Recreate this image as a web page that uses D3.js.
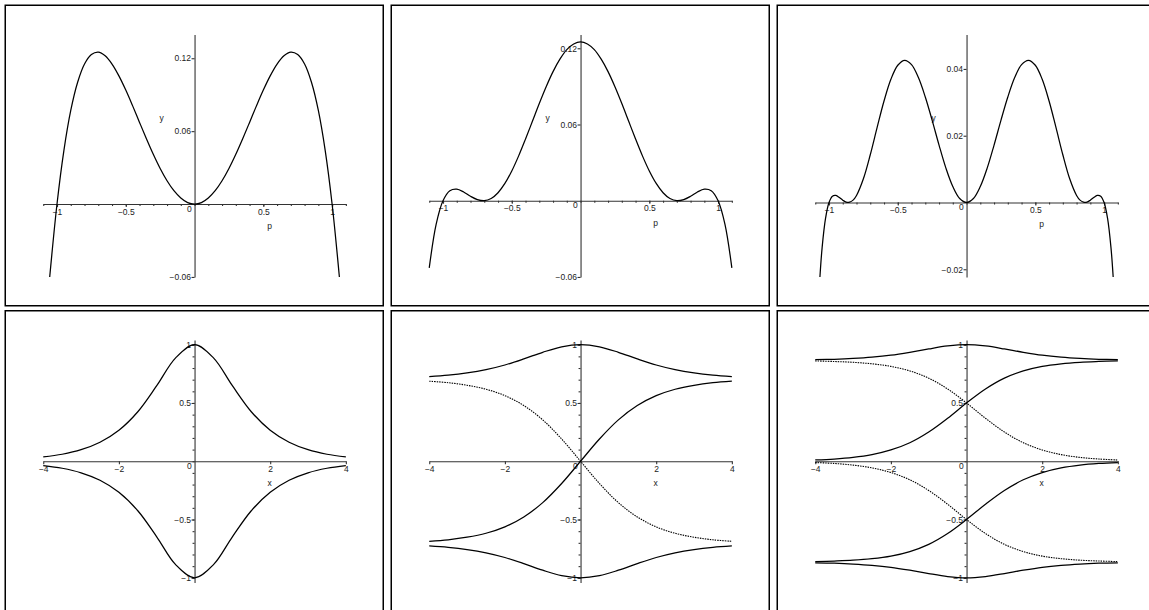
<!DOCTYPE html>
<html>
<head>
<meta charset="utf-8">
<script src="https://cdn.jsdelivr.net/npm/d3@7"></script>
<style>
body { margin: 0; background: #fff; }
svg text { font-family: "Liberation Sans", Arial, sans-serif; font-size: 8.5px; fill: #222; }
.axis path, .axis line { stroke: #333; stroke-width: 1.1; }
</style>
</head>
<body>
<svg id="chart" width="1149" height="610"></svg>
<script>
// ---- top row (variable p) ----
var p1 = [-1.053,-1,-0.95,-0.9,-0.85,-0.8,-0.75,-0.7,-0.65,-0.6,-0.55,-0.5,-0.45,-0.4,-0.35,-0.3,-0.25,-0.2,-0.15,-0.1,-0.05,
          0,0.05,0.1,0.15,0.2,0.25,0.3,0.35,0.4,0.45,0.5,0.55,0.6,0.65,0.7,0.75,0.8,0.85,0.9,0.95,1,1.053];
var y1 = [-0.06,0,0.0440,0.0770,0.1002,0.1152,0.1230,0.1250,0.1220,0.1152,0.1055,0.0938,0.0808,0.0672,0.0538,0.0410,0.0293,0.0192,0.0110,0.0050,0.0012,
          0,0.0012,0.0050,0.0110,0.0192,0.0293,0.0410,0.0538,0.0672,0.0808,0.0938,0.1055,0.1152,0.1220,0.1250,0.1230,0.1152,0.1002,0.0770,0.0440,0,-0.06];

var p2 = [-1.1,-1.05,-1,-0.95,-0.9,-0.85,-0.8,-0.75,-0.7,-0.65,-0.6,-0.55,-0.5,-0.45,-0.4,-0.35,-0.3,-0.25,-0.2,-0.15,-0.1,-0.05,
          0,0.05,0.1,0.15,0.2,0.25,0.3,0.35,0.4,0.45,0.5,0.55,0.6,0.65,0.7,0.75,0.8,0.85,0.9,0.95,1,1.05,1.1];
var y2 = [-0.0529,-0.0186,0,0.0079,0.0091,0.0069,0.0035,0.0009,0.0000,0.0017,0.0063,0.0136,0.0234,0.0353,0.0486,0.0625,0.0765,0.0897,0.1016,0.1114,0.1189,0.1234,
          0.1250,0.1234,0.1189,0.1114,0.1016,0.0897,0.0765,0.0625,0.0486,0.0353,0.0234,0.0136,0.0063,0.0017,0.0000,0.0009,0.0035,0.0069,0.0091,0.0079,0,-0.0186,-0.0529];

var p3 = [-1.066,-1.05,-1.025,-1,-0.975,-0.95,-0.925,-0.9,-0.875,-0.85,-0.825,-0.8,-0.75,-0.7,-0.65,-0.6,-0.55,-0.5,-0.45,-0.4,-0.35,-0.3,-0.25,-0.2,-0.15,-0.1,-0.05,
          0,0.05,0.1,0.15,0.2,0.25,0.3,0.35,0.4,0.45,0.5,0.55,0.6,0.65,0.7,0.75,0.8,0.825,0.85,0.875,0.9,0.925,0.95,0.975,1,1.025,1.05,1.066];
var y3 = [-0.0223,-0.0135,-0.0047,0,0.0019,0.0021,0.0015,0.0007,0.0001,0.0001,0.0007,0.0021,0.0071,0.0143,0.0225,0.0304,0.0369,0.0411,0.0426,0.0413,0.0374,0.0316,0.0246,0.0172,0.0103,0.0048,0.0012,
          0,0.0012,0.0048,0.0103,0.0172,0.0246,0.0316,0.0374,0.0413,0.0426,0.0411,0.0369,0.0304,0.0225,0.0143,0.0071,0.0021,0.0007,0.0001,0.0001,0.0007,0.0015,0.0021,0.0019,0,-0.0047,-0.0135,-0.0223];

// ---- bottom row (variable x) ----
var xs = [-4,-3.5,-3,-2.5,-2,-1.5,-1,-0.5,0,0.5,1,1.5,2,2.5,3,3.5,4];

var bell4    = [0.037,0.060,0.099,0.163,0.266,0.425,0.648,0.887,1,0.887,0.648,0.425,0.266,0.163,0.099,0.060,0.037];
var bell4Low = [-0.037,-0.060,-0.099,-0.163,-0.266,-0.425,-0.648,-0.887,-1,-0.887,-0.648,-0.425,-0.266,-0.163,-0.099,-0.060,-0.037];

var bell5    = [0.727,0.739,0.758,0.786,0.826,0.878,0.935,0.982,1,0.982,0.935,0.878,0.826,0.786,0.758,0.739,0.727];
var rise5    = [-0.687,-0.674,-0.652,-0.618,-0.563,-0.478,-0.355,-0.191,0,0.191,0.355,0.478,0.563,0.618,0.652,0.674,0.687];
var fall5    = [0.687,0.674,0.652,0.618,0.563,0.478,0.355,0.191,0,-0.191,-0.355,-0.478,-0.563,-0.618,-0.652,-0.674,-0.687];
var bell5Low = [-0.727,-0.739,-0.758,-0.786,-0.826,-0.878,-0.935,-0.982,-1,-0.982,-0.935,-0.878,-0.826,-0.786,-0.758,-0.739,-0.727];

var bell6    = [0.871,0.875,0.882,0.893,0.910,0.935,0.964,0.989,1,0.989,0.964,0.935,0.910,0.893,0.882,0.875,0.871];
var rise6    = [0.011,0.019,0.033,0.057,0.097,0.159,0.251,0.369,0.5,0.620,0.713,0.775,0.814,0.836,0.849,0.856,0.861];
var fall6    = [0.861,0.856,0.849,0.836,0.814,0.775,0.713,0.620,0.5,0.369,0.251,0.159,0.097,0.057,0.033,0.019,0.011];
var lowRise6 = [-0.861,-0.856,-0.849,-0.836,-0.814,-0.775,-0.713,-0.620,-0.5,-0.369,-0.251,-0.159,-0.097,-0.057,-0.033,-0.019,-0.011];
var lowFall6 = [-0.011,-0.019,-0.033,-0.057,-0.097,-0.159,-0.251,-0.369,-0.5,-0.620,-0.713,-0.775,-0.814,-0.836,-0.849,-0.856,-0.861];
var bell6Low = [-0.871,-0.875,-0.882,-0.893,-0.910,-0.935,-0.964,-0.989,-1,-0.989,-0.964,-0.935,-0.910,-0.893,-0.882,-0.875,-0.871];

// ---- tick labels ----
var topXTicks = [-1,-0.5,0.5,1];
var botXTicks = [-4,-2,2,4];
var yTicks1 = [-0.06,0.06,0.12];
var yTicks2 = [-0.06,0.06,0.12];
var yTicks3 = [-0.02,0.02,0.04];
var botYTicks = [-1,-0.5,0.5,1];

var panels = [
  {col:0,row:0, xd:[-1.1,1.1], yd:[-0.06,0.1395], xt:topXTicks, xm:0.1, yt:yTicks1, ym:null, xl:"p", yl:"y",
   series:[{x:p1,y:y1}]},
  {col:1,row:0, xd:[-1.1,1.1], yd:[-0.06,0.1308], xt:topXTicks, xm:0.1, yt:yTicks2, ym:null, xl:"p", yl:"y",
   series:[{x:p2,y:y2}]},
  {col:2,row:0, xd:[-1.1,1.1], yd:[-0.0223,0.0503], xt:topXTicks, xm:0.1, yt:yTicks3, ym:null, xl:"p", yl:"y",
   series:[{x:p3,y:y3}]},
  {col:0,row:1, xd:[-4,4], yd:[-1.04,1.04], xt:botXTicks, xm:null, yt:botYTicks, ym:0.1, xl:"x", yl:null,
   series:[{x:xs,y:bell4},{x:xs,y:bell4Low}]},
  {col:1,row:1, xd:[-4,4], yd:[-1.04,1.04], xt:botXTicks, xm:null, yt:botYTicks, ym:0.1, xl:"x", yl:null,
   series:[{x:xs,y:bell5},{x:xs,y:rise5},{x:xs,y:fall5,dot:true},{x:xs,y:bell5Low}]},
  {col:2,row:1, xd:[-4,4], yd:[-1.04,1.04], xt:botXTicks, xm:null, yt:botYTicks, ym:0.1, xl:"x", yl:null,
   series:[{x:xs,y:bell6},{x:xs,y:rise6},{x:xs,y:fall6,dot:true},{x:xs,y:lowRise6},{x:xs,y:lowFall6,dot:true},{x:xs,y:bell6Low}]}
];

var svg = d3.select("#chart");
var panelW = 378, panelH = 300.5;
var plot = {left: 38, top: 29.3, width: 302.6, height: 242.4};

var fmt = function(d){ return d3.format("")(d).replace("-", "\u2212"); };

panels.forEach(function(pn){
  var ox = 5.25 + pn.col*386, oy = 5.25 + pn.row*305.5;
  var g = svg.append("g").attr("transform", "translate(" + ox + "," + oy + ")");

  g.append("rect")
    .attr("width", panelW).attr("height", panelH)
    .attr("fill", "none").attr("stroke", "#000").attr("stroke-width", 1.5);

  var x = d3.scaleLinear().domain(pn.xd).range([plot.left, plot.left + plot.width]);
  var y = d3.scaleLinear().domain(pn.yd).range([plot.top + plot.height, plot.top]);
  var x0 = x(0), y0 = y(0);

  // minor ticks
  if (pn.xm) {
    var mx = d3.range(Math.ceil(pn.xd[0]/pn.xm), Math.floor(pn.xd[1]/pn.xm)+1).map(function(i){ return i*pn.xm; });
    g.append("g").attr("class","axis").attr("transform","translate(0,"+y0+")")
      .call(d3.axisBottom(x).tickValues(mx).tickSize(2).tickFormat(""))
      .select(".domain").remove();
  }
  if (pn.ym) {
    var my = d3.range(Math.ceil(pn.yd[0]/pn.ym), Math.floor(pn.yd[1]/pn.ym)+1).map(function(i){ return i*pn.ym; });
    g.append("g").attr("class","axis").attr("transform","translate("+x0+",0)")
      .call(d3.axisLeft(y).tickValues(my).tickSize(2).tickFormat(""))
      .select(".domain").remove();
  }

  g.append("g").attr("class","axis").attr("transform","translate(0,"+y0+")")
    .call(d3.axisBottom(x).tickValues(pn.xt).tickSize(3).tickSizeOuter(0).tickPadding(1.5).tickFormat(fmt));

  g.append("g").attr("class","axis").attr("transform","translate("+x0+",0)")
    .call(d3.axisLeft(y).tickValues(pn.yt).tickSize(3).tickSizeOuter(0).tickPadding(0.5).tickFormat(fmt));

  g.append("text").attr("x", x0 - 5.3).attr("y", y0 + 7.5)
    .attr("text-anchor","middle").text("0");

  g.append("text").attr("x", x0 + 75).attr("y", y0 + 25)
    .attr("text-anchor","middle").text(pn.xl);
  if (pn.yl) {
    g.append("text").attr("x", x0 - 33).attr("y", plot.top + 0.345*plot.height + 3)
      .attr("text-anchor","middle").text(pn.yl);
  }

  var line = d3.line()
    .x(function(d){ return x(d[0]); })
    .y(function(d){ return y(d[1]); })
    .curve(d3.curveCatmullRom.alpha(0.5));

  pn.series.forEach(function(s){
    g.append("path")
      .datum(d3.zip(s.x, s.y))
      .attr("fill","none")
      .attr("stroke", "#000")
      .attr("stroke-width", s.dot ? 1.1 : 1.25)
      .attr("stroke-dasharray", s.dot ? "1.5,1" : null)
      .attr("d", line);
  });
});
</script>
</body>
</html>
